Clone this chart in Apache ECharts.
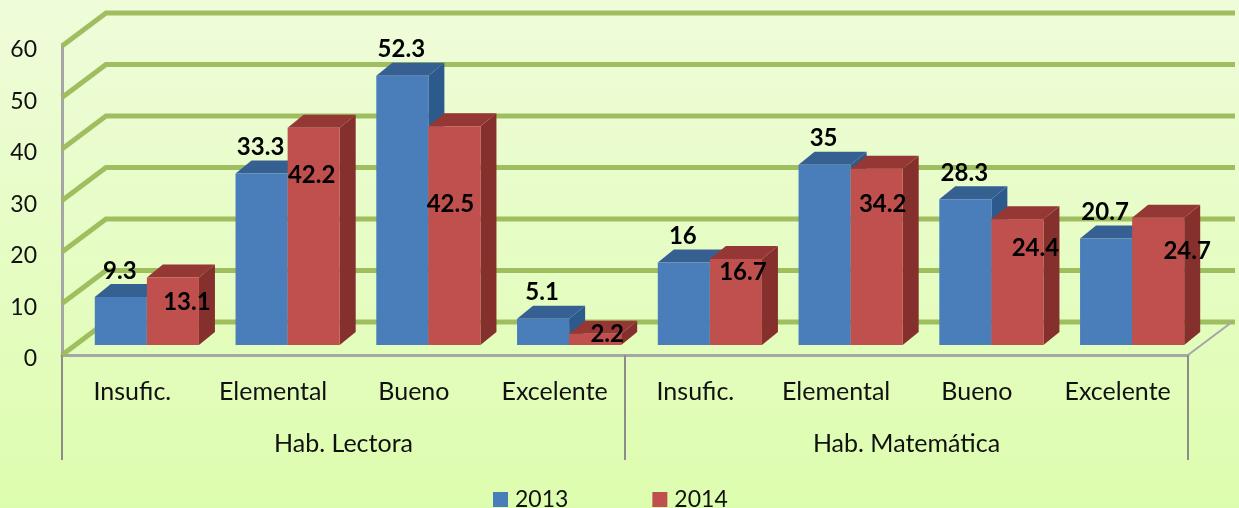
<!DOCTYPE html>
<html>
<head>
<meta charset="utf-8">
<script src="https://cdn.jsdelivr.net/npm/echarts@6/dist/echarts.min.js"></script>
<style>
  html, body { margin: 0; padding: 0; }
  #chart { width: 1239px; height: 508px; }
</style>
</head>
<body>
<div id="chart"></div>
<script>
const levels = ['Insufic.', 'Elemental', 'Bueno', 'Excelente', 'Insufic.', 'Elemental', 'Bueno', 'Excelente'];
const groups = ['Hab. Lectora', 'Hab. Matemática'];
const values2013 = [9.3, 33.3, 52.3, 5.1, 16, 35, 28.3, 20.7];
const values2014 = [13.1, 42.2, 42.5, 2.2, 16.7, 34.2, 24.4, 24.7];
const yTicks = [0, 10, 20, 30, 40, 50, 60];

// the red labels were moved by hand in the original, [dx, dy] from the bar top
const RED_LABEL_NUDGE = [[14, 25], [-2, 48], [-4, 78], [12, 1], [7, 13], [6, 35], [18, 29], [29, 33]];

const FONT = 'Lato, "Noto Sans", sans-serif';
const WALL = {x: 44, y: -33};    // depth of the side wall
const FLOOR = {x: 14.5, y: -10}; // bars stand a little behind the front edge
const DEPTH = {x: 16, y: -13};   // depth of one bar
const BLUE = {front: '#4A7EBB', top: '#376092', side: '#2C5A8C'};
const RED = {front: '#C0504D', top: '#953735', side: '#86302E'};

const toData = (arr) => arr.map((v, i) => [i, v]);

// draws one box, side 0 puts it left of the band centre, side 1 right of it
function boxRenderer(colors, side, labelFor) {
  return (params, api) => {
    const i = api.value(0);
    const value = api.value(1);
    const band = api.size([1, 0])[0];
    const w = band * 0.37;
    const base = api.coord([i, 0]);
    const top = api.coord([i, value]);
    const x0 = base[0] + FLOOR.x + (side - 1) * w;
    const x1 = x0 + w;
    const y0 = base[1] + FLOOR.y;
    const y1 = top[1] + FLOOR.y;
    const label = labelFor(i, value, (x0 + x1) / 2, y1);
    return {
      type: 'group',
      children: [
        {type: 'polygon', shape: {points: [[x1, y0], [x1 + DEPTH.x, y0 + DEPTH.y], [x1 + DEPTH.x, y1 + DEPTH.y], [x1, y1]]}, style: {fill: colors.side}},
        {type: 'polygon', shape: {points: [[x0, y1], [x0 + DEPTH.x, y1 + DEPTH.y], [x1 + DEPTH.x, y1 + DEPTH.y], [x1, y1]]}, style: {fill: colors.top}},
        {type: 'rect', shape: {x: x0, y: y1, width: w, height: y0 - y1}, style: {fill: colors.front}},
        {
          type: 'text',
          z2: 50,
          style: {
            x: label.x,
            y: label.y,
            text: String(value),
            align: 'center',
            verticalAlign: 'middle',
            fill: '#000',
            font: 'bold 24px ' + FONT
          }
        }
      ]
    };
  };
}

// back wall lines, one per y tick
function wallRenderer(params, api) {
  const v = api.value(0);
  const rect = params.coordSys;
  const y = api.coord([0, v])[1];
  const xl = rect.x;
  const xr = rect.x + rect.width;
  const children = [{
    type: 'polyline',
    shape: {points: [[xl, y], [xl + WALL.x, y + WALL.y], [xr + WALL.x + 3, y + WALL.y]]},
    style: {stroke: '#9BBB59', lineWidth: 5, fill: 'none', opacity: 0.95}
  }];
  if (v === 0) {
    children.push({
      type: 'line',
      shape: {x1: xr, y1: y, x2: xr + WALL.x, y2: y + WALL.y},
      style: {stroke: '#A6A6A6', lineWidth: 2}
    });
  }
  return {type: 'group', children};
}

const chart = echarts.init(document.getElementById('chart'));
chart.setOption({
  animation: false,
  backgroundColor: new echarts.graphic.LinearGradient(0, 0, 0, 1, [
    {offset: 0, color: '#EFFCDA'},
    {offset: 1, color: '#DDFDAE'}
  ]),
  grid: {left: 62, right: 51, top: 46, bottom: 153},
  legend: {
    left: 488,
    top: 483,
    itemWidth: 15,
    itemHeight: 15,
    itemGap: 84,
    itemStyle: {borderWidth: 0},
    icon: 'rect',
    data: ['2013', '2014'],
    textStyle: {fontFamily: FONT, fontSize: 23, color: '#111', padding: [0, 0, 0, 2]}
  },
  xAxis: [
    {
      type: 'category',
      data: levels,
      position: 'bottom',
      axisLine: {lineStyle: {color: '#A6A6A6', width: 3}},
      axisTick: {show: false},
      axisLabel: {margin: 24, interval: 0, fontFamily: FONT, fontSize: 25, color: '#111'}
    },
    {
      type: 'category',
      data: groups,
      position: 'bottom',
      axisLine: {show: false},
      axisTick: {show: true, length: 105, lineStyle: {color: '#8C8C8C', width: 2}},
      axisLabel: {margin: 76, interval: 0, fontFamily: FONT, fontSize: 25, color: '#111'}
    }
  ],
  yAxis: {
    type: 'value',
    min: 0,
    max: 60,
    interval: 10,
    axisLine: {show: true, lineStyle: {color: '#A6A6A6', width: 3}},
    axisTick: {show: false},
    splitLine: {show: false},
    axisLabel: {margin: 25, verticalAlign: 'top', lineHeight: 8, fontFamily: FONT, fontSize: 23, color: '#111'}
  },
  series: [
    {
      type: 'custom',
      name: 'wall',
      z: 1,
      silent: true,
      encode: {y: 0},
      data: yTicks.map((v) => [v]),
      renderItem: wallRenderer
    },
    {
      type: 'custom',
      name: '2013',
      z: 2,
      itemStyle: {color: BLUE.front},
      encode: {x: 0, y: 1},
      data: toData(values2013),
      renderItem: boxRenderer(BLUE, 0, (i, v, cx, top) => ({x: cx - 1, y: top - 26}))
    },
    {
      type: 'custom',
      name: '2014',
      z: 3,
      itemStyle: {color: RED.front},
      encode: {x: 0, y: 1},
      data: toData(values2014),
      renderItem: boxRenderer(RED, 1, (i, v, cx, top) => ({x: cx + RED_LABEL_NUDGE[i][0], y: top + RED_LABEL_NUDGE[i][1]}))
    }
  ]
});
</script>
</body>
</html>
